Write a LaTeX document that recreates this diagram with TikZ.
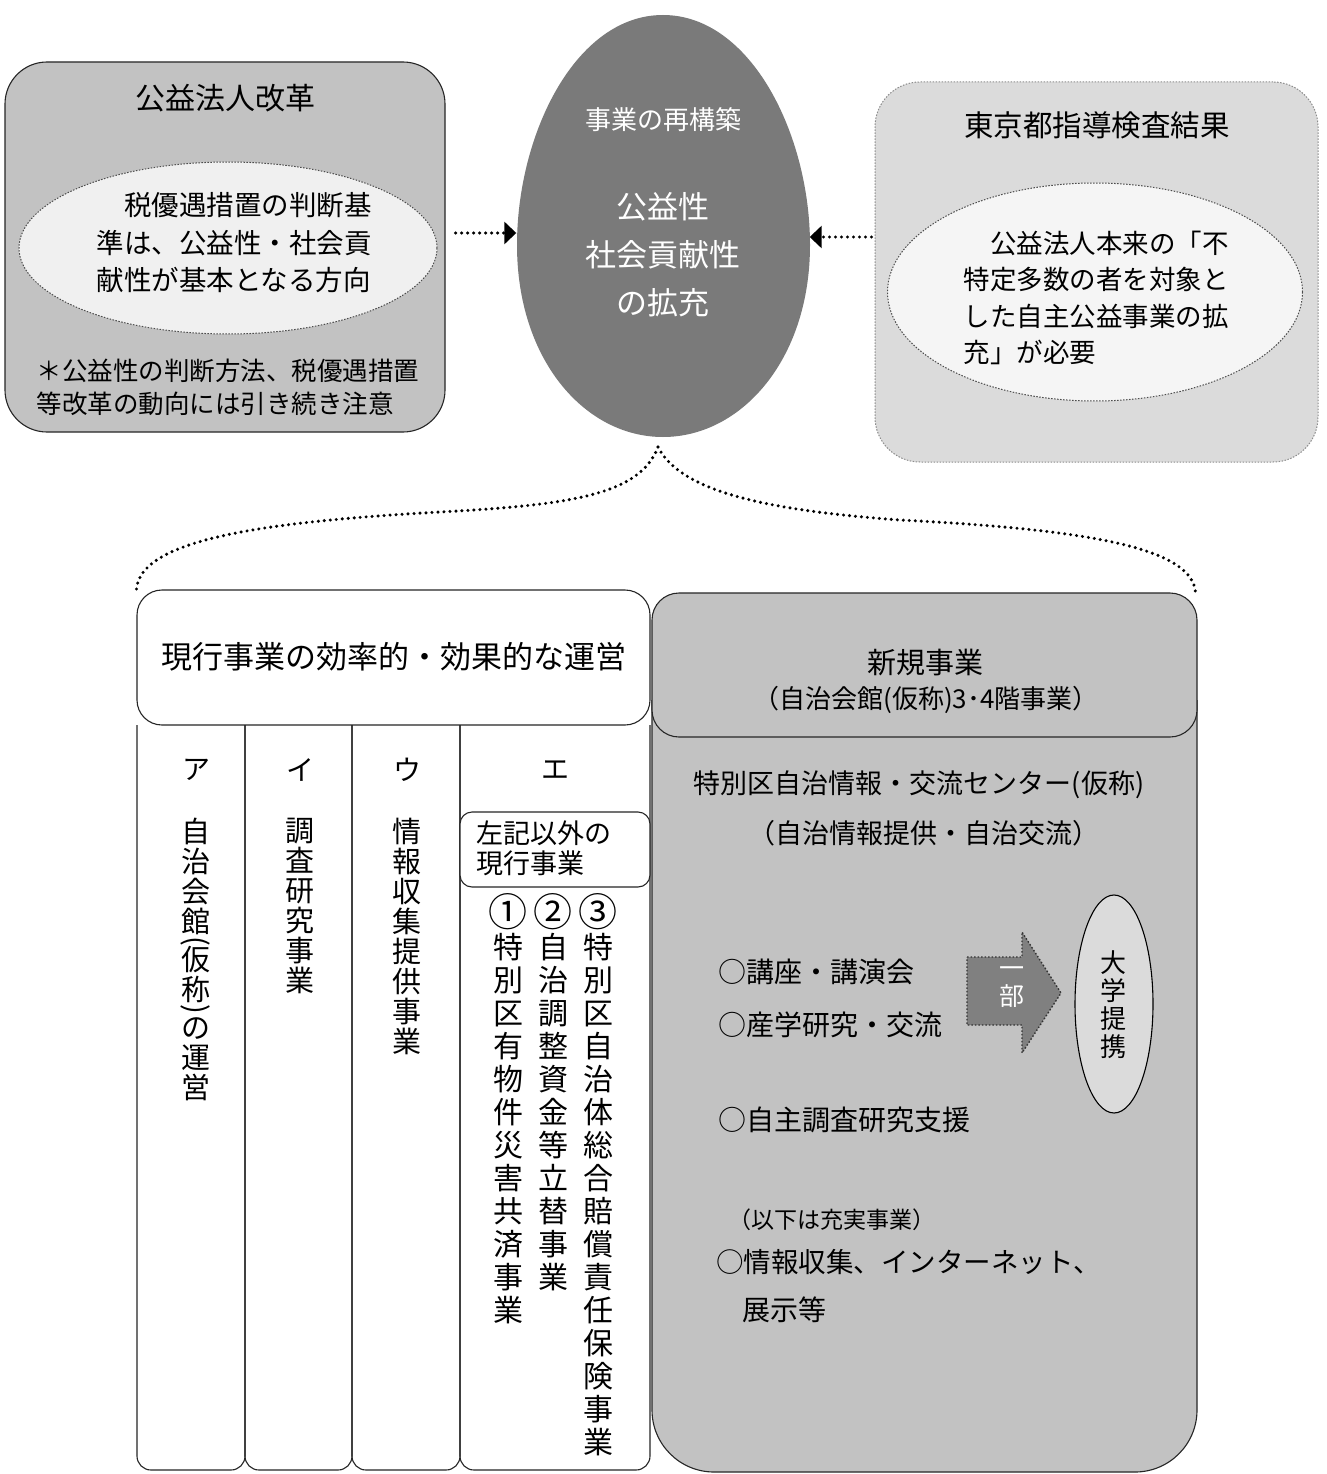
\documentclass[tikz,border=0pt]{standalone}
\usepackage{fontspec}
\usepackage{graphicx}
\newfontfamily\jpf{Noto Sans CJK JP}
\usetikzlibrary{arrows.meta,shapes.geometric}
\newcommand\myfs[2]{\fontsize{#1pt}{#2pt}\selectfont}
\newcommand\vparL{\raisebox{-2pt}{\rotatebox[origin=c]{-90}{(}}}
\newcommand\vparR{\raisebox{-2pt}{\rotatebox[origin=c]{-90}{)}}}
\newcommand\bignum[1]{\raisebox{-1pt}{\scalebox{1.3}{#1}}}
\begin{document}
\begin{tikzpicture}[x=1pt,y=-1pt,
  tx/.style 2 args={font=\jpf\myfs{#1}{#2}, inner sep=0pt},
  box/.style={draw=black!85, line width=1.1pt},
  dotline/.style={line width=3.4pt, line cap=round, dash pattern=on 0pt off 6pt},
  dotarr/.style={dotline, -{Triangle[length=12pt,width=22pt]}},
  ell/.style={ellipse, draw=black!70, line width=1pt, dash pattern=on 1.5pt off 1.5pt, inner sep=0pt},
  colbox/.style={draw=black!85, line width=1.1pt, rounded corners=14pt}
]
\useasboundingbox (0,0) rectangle (1326,1474);
\fill[white] (0,0) rectangle (1326,1474);

% ---------- left box ----------
\node[box, fill=black!24, rounded corners=42pt, minimum width=440pt, minimum height=370pt, inner sep=0pt] (lbox) at (225,247) {};
\node[tx={30}{36}] (ltitle) at (225,98) {公益法人改革};
\node[ell, fill=black!6, minimum width=418pt, minimum height=172pt] (lell) at (228,248) {};
\node[tx={27.5}{37.5}, align=left] (ltext) at (234,243) {　税優遇措置の判断基\\準は、公益性・社会貢\\献性が基本となる方向};
\node[tx={25.5}{33}, align=left] (lnote) at (228,387) {＊公益性の判断方法、税優遇措置\\等改革の動向には引き続き注意};

% ---------- right box ----------
\node[draw=black!45, line width=1pt, dash pattern=on 1.5pt off 1.5pt, fill=black!14, rounded corners=45pt, minimum width=443pt, minimum height=380pt, inner sep=0pt] (rbox) at (1096.5,272) {};
\node[tx={29.5}{36}] (rtitle) at (1097,125) {東京都指導検査結果};
\node[ell, fill=black!4, minimum width=415pt, minimum height=218pt] (rell) at (1095,292) {};
\node[tx={26.5}{36.5}, align=left] (rtext) at (1096,298) {　公益法人本来の「不\\特定多数の者を対象と\\した自主公益事業の拡\\充」が必要};

% ---------- centre egg ----------
\node[ellipse, minimum width=293pt, minimum height=422pt, inner sep=0pt] (egg) at (663,226) {};
\fill[black!52] (663,15) .. controls (575,15) and (517,135) .. (517,245)
  .. controls (517,360) and (585,437) .. (663,437)
  .. controls (741,437) and (810,360) .. (810,245)
  .. controls (810,135) and (751,15) .. (663,15);
\node[tx={26}{30}, text=white] (eggt1) at (663,120) {事業の再構築};
\node[tx={31}{48}, text=white, align=center] (eggt2) at (663,255) {公益性\\社会貢献性\\の拡充};

% ---------- arrows into the egg ----------
\draw[dotarr] ([xshift=10pt,yshift=14pt]lbox.east) -- ([yshift=-7pt]egg.west);
\draw[dotarr] ([xshift=-3pt,yshift=35pt]rbox.west) -- ([yshift=-11pt]egg.east);

% ---------- left lower group ----------
\node[box, fill=white, rounded corners=25pt, minimum width=513pt, minimum height=135pt, inner sep=0pt] (hdrL) at (393.5,657.5) {};
\node[tx={31}{36}] (hdrLt) at (394,657) {現行事業の効率的・効果的な運営};

\draw[colbox] (137,725) -- (137,1470) -- (245,1470) -- (245,725);
\draw[colbox] (245,725) -- (245,1470) -- (352,1470) -- (352,725);
\draw[colbox] (352,725) -- (352,1470) -- (460,1470) -- (460,725);
\draw[colbox] (460,725) -- (460,1470) -- (650,1470) -- (650,725);

\node[tx={28}{30}] (ca) at (196,770) {ア};
\node[tx={28}{30}] (ci) at (300,770) {イ};
\node[tx={28}{30}] (cu) at (407,770) {ウ};
\node[tx={28}{30}] (ce) at (555,770) {エ};

\node[tx={29}{30}, align=center, anchor=north] (va) at (196,818)
  {自\\治\\会\\館\\[-14pt]\vparL\\[-8pt]仮\\称\\[-14pt]\vparR\\[-8pt]の\\運\\営};
\node[tx={29}{30}, align=center, anchor=north] (vi) at (300,818)
  {調\\査\\研\\究\\事\\業};
\node[tx={29}{30}, align=center, anchor=north] (vu) at (407,818)
  {情\\報\\収\\集\\提\\供\\事\\業};

\node[box, fill=white, rounded corners=12pt, minimum width=190pt, minimum height=75pt, inner sep=0pt] (esub) at (555,849.5) {};
\node[tx={27}{30}, align=left, anchor=west] (esubt) at (476,848) {左記以外の\\現行事業};

\node[tx={30}{33}, align=center, anchor=north] (v1) at (508,893)
  {\bignum{①}\\特\\別\\区\\有\\物\\件\\災\\害\\共\\済\\事\\業};
\node[tx={30}{33}, align=center, anchor=north] (v2) at (553,893)
  {\bignum{②}\\自\\治\\調\\整\\資\\金\\等\\立\\替\\事\\業};
\node[tx={30}{33}, align=center, anchor=north] (v3) at (598,893)
  {\bignum{③}\\特\\別\\区\\自\\治\\体\\総\\合\\賠\\償\\責\\任\\保\\険\\事\\業};

% ---------- right lower group ----------
\draw[box, fill=black!24, rounded corners=62pt] (652,700) -- (652,1472) -- (1197,1472) -- (1197,700);
\node[box, fill=black!24, rounded corners=27pt, minimum width=545pt, minimum height=144pt, inner sep=0pt] (hdrR) at (924.5,665) {};
\node[tx={29}{36}] (hdrRt1) at (925,663) {新規事業};
\node[tx={26}{36}] (hdrRt2) at (926,700) {（自治会館(仮称)3･4階事業）};

\node[tx={27}{36}] (cen1) at (919,785) {特別区自治情報・交流センター(仮称)};
\node[tx={27}{36}] (cen2) at (924,833) {（自治情報提供・自治交流）};

\node[tx={28}{36}, anchor=west] (b1) at (718,972) {○講座・講演会};
\node[tx={28}{36}, anchor=west] (b2) at (718,1025) {○産学研究・交流};
\node[tx={28}{36}, anchor=west] (b3) at (718,1120) {○自主調査研究支援};
\node[tx={23}{30}, anchor=west] (b4) at (728,1220) {（以下は充実事業）};
\node[tx={27.5}{36}, anchor=west] (b5) at (716,1262) {○情報収集、インターネット、};
\node[tx={28}{36}, anchor=west] (b6) at (742,1310) {展示等};

% block arrow "一部"
\path (967,957) coordinate (pa1) (1022,957) coordinate (pa2) (1022,932) coordinate (pa3)
  (1061,993) coordinate (pa4) (1022,1053) coordinate (pa5) (1022,1025) coordinate (pa6) (967,1025) coordinate (pa7);
\draw[fill=black!50, draw=black!80, line width=1.4pt, dash pattern=on 1.5pt off 2pt]
  (pa1) -- (pa2) -- (pa3) -- (pa4) -- (pa5) -- (pa6) -- (pa7) -- cycle;
\node[tx={25}{28}, text=white, align=center] (ichibu) at (1012,987) {一\\部};

% 大学提携
\node[ellipse, draw=black, line width=1.1pt, fill=black!14, minimum width=78pt, minimum height=218pt, inner sep=0pt] (univ) at (1114,1004) {};
\node[tx={26}{28}, align=center] (univt) at (1113,1005) {大\\学\\提\\携};

% ---------- brace ----------
\coordinate (apex) at (658,447);
\draw[dotline] (apex) .. controls (640,495) and (570,505) .. (440,512)
  .. controls (260,522) and (140,540) .. (hdrL.north west);
\draw[dotline] (apex) .. controls (680,490) and (760,510) .. (900,520)
  .. controls (1100,530) and (1192,550) .. ([xshift=-2pt]hdrR.north east);
\end{tikzpicture}
\end{document}
